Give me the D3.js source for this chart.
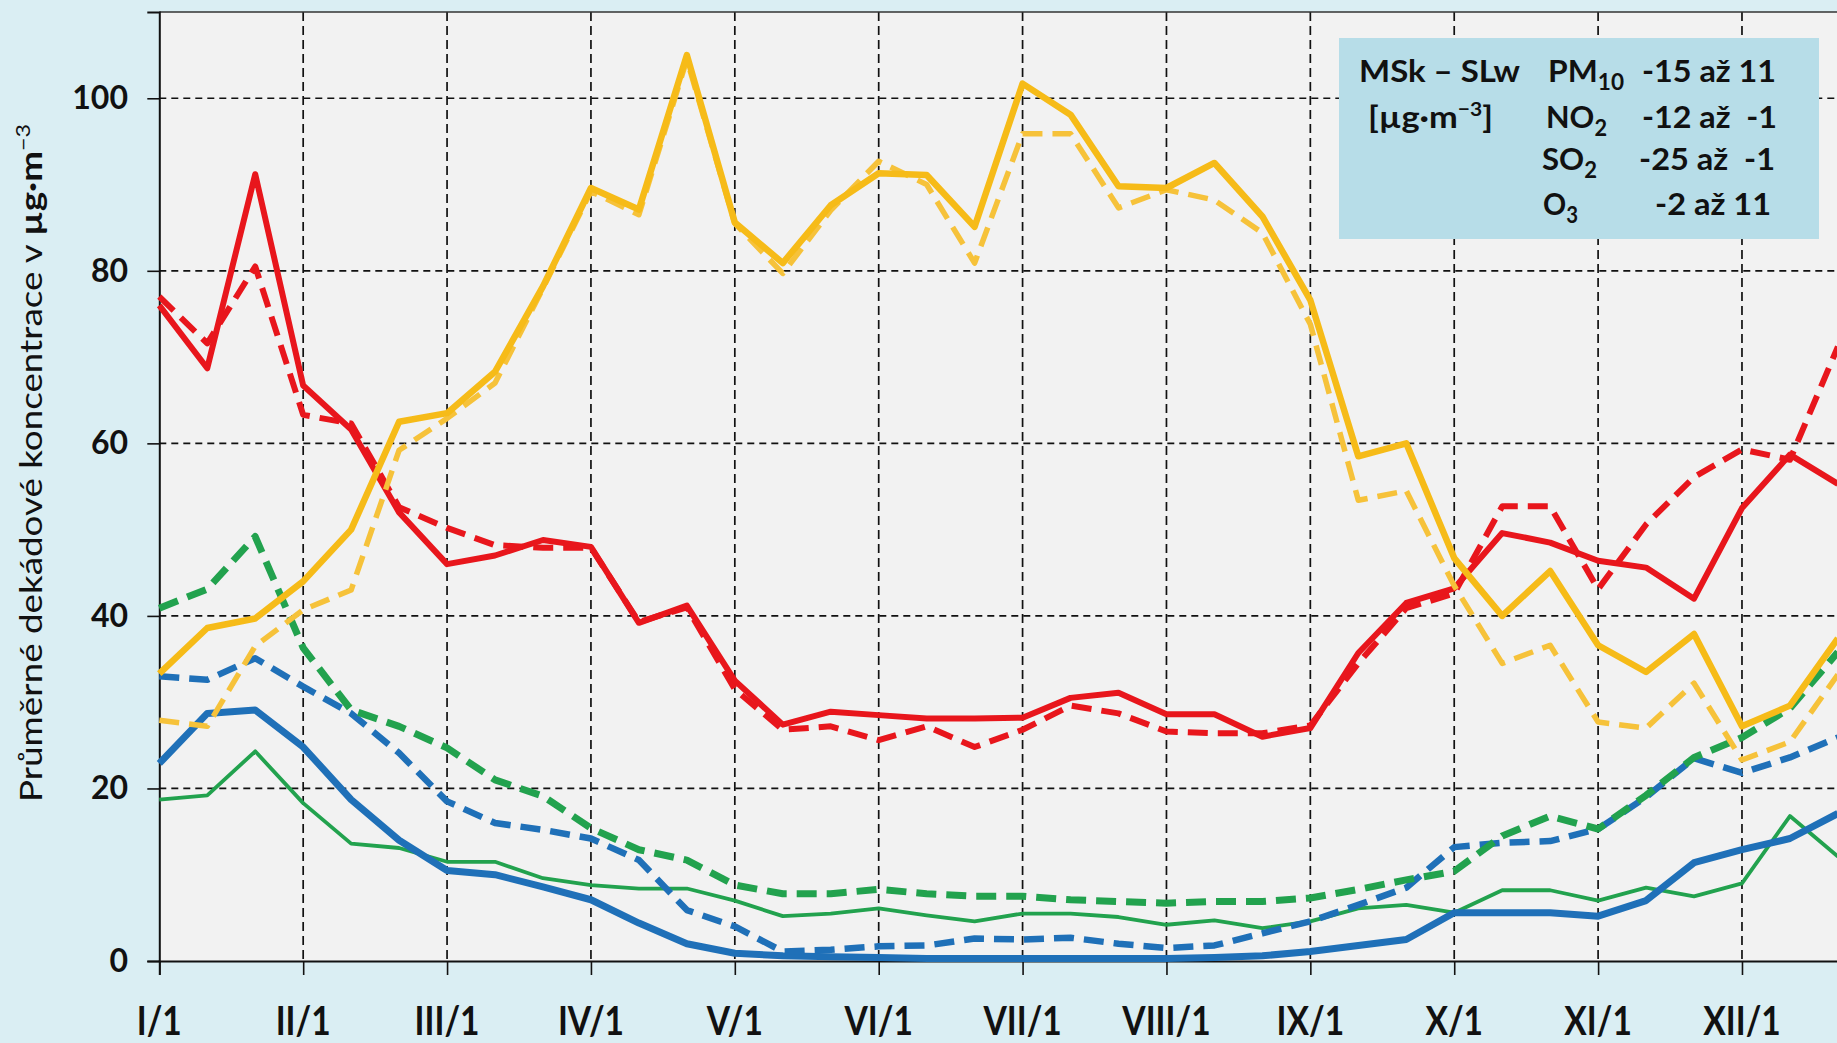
<!DOCTYPE html>
<html><head><meta charset="utf-8">
<script src="https://cdn.jsdelivr.net/npm/d3@7"></script>
<style>
body{margin:0;background:#daeef3;}
svg{display:block}
text{white-space:pre}
</style>
</head><body>
<svg id="c" width="1837" height="1043"></svg>
<script>
// ---- data ----
const decades = ["I/1","I/2","I/3","II/1","II/2","II/3","III/1","III/2","III/3","IV/1","IV/2","IV/3",
  "V/1","V/2","V/3","VI/1","VI/2","VI/3","VII/1","VII/2","VII/3","VIII/1","VIII/2","VIII/3",
  "IX/1","IX/2","IX/3","X/1","X/2","X/3","XI/1","XI/2","XI/3","XII/1","XII/2","XII/3"];
const monthTicks = ["I/1","II/1","III/1","IV/1","V/1","VI/1","VII/1","VIII/1","IX/1","X/1","XI/1","XII/1"];
const yTicks = [0,20,40,60,80,100];

const redSolid   = [76,68.7,91.2,66.7,61.6,52,46,47,48.8,48,39.2,41.2,32.5,27.4,28.9,28.5,28.1,28.1,28.2,30.5,31.1,28.6,28.6,26.0,27.0,35.7,41.5,43.2,49.6,48.5,46.4,45.6,42.0,52.5,58.7,55.3];
const redDashed  = [77,71.6,80.5,63.3,62.3,52.6,50.2,48.2,47.9,47.9,39.3,41.0,31.5,26.8,27.2,25.6,27.2,24.8,26.8,29.6,28.7,26.6,26.4,26.4,27.3,34.5,40.9,42.6,52.7,52.7,43.1,50.6,56.1,59.3,58.1,71.2];
const yelSolid   = [33.3,38.6,39.7,44.0,50.0,62.5,63.5,68.3,78.2,89.6,87.1,105.0,85.6,80.9,87.6,91.3,91.1,85.1,101.7,98.1,89.8,89.6,92.5,86.3,76.6,58.5,60.0,46.7,40.0,45.2,36.6,33.5,37.9,27.2,29.6,37.4];
const yelDashed  = [27.9,27.2,36.5,40.7,43.0,59.2,62.9,67.0,78.0,89.2,86.5,104.5,85.5,79.7,87.0,92.7,90.0,80.9,95.9,95.9,87.3,89.4,88.2,84.4,73.8,53.4,54.5,43.5,34.5,36.6,27.7,27.0,32.2,23.3,25.4,33.2];
const grnSolid   = [18.7,19.2,24.3,18.3,13.6,13.1,11.5,11.5,9.6,8.8,8.4,8.4,7.0,5.2,5.5,6.1,5.3,4.6,5.5,5.5,5.1,4.2,4.7,3.8,4.6,6.1,6.5,5.6,8.2,8.2,7.0,8.5,7.5,9.0,16.8,12.1];
const grnDashed  = [40.9,43.1,49.2,36.3,29.1,27.2,24.7,21.0,19.1,15.4,12.9,11.7,8.8,7.8,7.8,8.3,7.8,7.5,7.5,7.1,6.9,6.7,6.9,6.9,7.3,8.3,9.4,10.4,14.5,16.8,15.3,19.2,23.6,25.9,29.3,35.8];
const bluSolid   = [22.9,28.7,29.1,24.8,18.7,14.0,10.5,10.0,8.6,7.1,4.4,2.0,0.9,0.6,0.5,0.4,0.3,0.3,0.3,0.3,0.3,0.3,0.4,0.6,1.1,1.8,2.5,5.6,5.6,5.6,5.2,7.0,11.4,12.9,14.2,17.1];
const bluDashed  = [33.0,32.6,35.1,31.8,28.7,24.1,18.5,16.0,15.2,14.2,11.7,5.9,4.0,1.1,1.3,1.7,1.8,2.6,2.5,2.7,2.0,1.5,1.8,3.2,4.6,6.5,8.5,13.2,13.7,13.9,15.3,19.0,23.5,21.8,23.6,25.9];

const legendRows = [
  {left:"MSk – SLw", sp:"PM", sub:"10", range:"-15 až 11"},
  {left:"[µg·m", sup:"−3", leftEnd:"]", sp:"NO", sub:"2", range:"-12 až  -1"},
  {left:"", sp:"SO", sub:"2", range:"-25 až  -1"},
  {left:"", sp:"O", sub:"3", range:"-2 až 11"}
];

// ---- layout ----
const svg = d3.select("#c");
const W = 1837, H = 1043;
const x0 = 159.3, step = 47.96;
const x = d3.scalePoint().domain(decades).range([x0, x0 + step*35]);
const y = d3.scaleLinear().domain([0,110]).range([961, 12]);

svg.append("rect").attr("width",W).attr("height",H).attr("fill","#daeef3");
svg.append("rect").attr("x",x0).attr("y",y(110)).attr("width",W - x0 + 5).attr("height",y(0)-y(110)).attr("fill","#f2f2f2");

// grid
const grid = svg.append("g");
grid.selectAll(".hg").data(yTicks.filter(d=>d>0)).join("line")
  .attr("x1",x0).attr("x2",W).attr("y1",d=>y(d)).attr("y2",d=>y(d))
  .attr("stroke","#111").attr("stroke-width",1.7).attr("stroke-dasharray","7,5");
grid.selectAll(".vg").data(monthTicks.slice(1)).join("line")
  .attr("x1",d=>x(d)).attr("x2",d=>x(d)).attr("y1",y(110)).attr("y2",y(0))
  .attr("stroke","#111").attr("stroke-width",1.7).attr("stroke-dasharray","9,5");
// top border
svg.append("line").attr("x1",x0).attr("x2",W).attr("y1",y(110)).attr("y2",y(110)).attr("stroke","#333").attr("stroke-width",1.6);

// axes
const yAxis = d3.axisLeft(y).tickValues(yTicks).tickSize(12).tickFormat("");
const gy = svg.append("g").attr("transform",`translate(${x0},0)`).call(yAxis);
gy.select(".domain").attr("stroke","#111").attr("stroke-width",2);
gy.selectAll(".tick line").attr("stroke","#111").attr("stroke-width",1.6);

const xAxis = d3.axisBottom(x).tickValues(monthTicks).tickSize(14).tickFormat("");
const gx = svg.append("g").attr("transform",`translate(0,${y(0)})`).call(xAxis);
gx.select(".domain").attr("stroke","#111").attr("stroke-width",2);
gx.selectAll(".tick line").attr("stroke","#111").attr("stroke-width",1.6);

// y labels
svg.append("g").selectAll("text").data(yTicks).join("text")
  .attr("x",128).attr("y",d=>y(d)+11)
  .attr("text-anchor","end").attr("font-family","Lato").attr("font-weight","bold")
  .attr("font-size",32).attr("fill","#111").text(d=>d);

// x labels
svg.append("g").selectAll("text").data(monthTicks).join("text")
  .attr("transform",d=>`translate(${x(d)},1035) scale(0.84,1)`)
  .attr("text-anchor","middle").attr("font-family","Lato").attr("font-weight","bold")
  .attr("font-size",40).attr("fill","#111").text(d=>d);

// y title
const yt = svg.append("text")
  .attr("transform","translate(42,463) rotate(-90)")
  .attr("text-anchor","middle").attr("font-family","Lato").attr("font-size",30).attr("fill","#111")
  .attr("textLength",678).attr("lengthAdjust","spacingAndGlyphs");
yt.append("tspan").text("Průměrné dekádové koncentrace v ");
yt.append("tspan").attr("font-weight","bold").text("µg·m");
yt.append("tspan").attr("dy",-12).attr("font-size",19).text("−3");

// lines
const series = [
  {v:grnSolid,  c:"#22a24e", w:3.8, d:null},
  {v:bluSolid,  c:"#1f70b8", w:7,   d:null},
  {v:bluDashed, c:"#1f70b8", w:6.5, d:"20,10"},
  {v:grnDashed, c:"#22a24e", w:7,   d:"20,10"},
  {v:redDashed, c:"#e8161c", w:6,   d:"20,10"},
  {v:redSolid,  c:"#e8161c", w:6,   d:null},
  {v:yelDashed, c:"#f6c23a", w:5.5, d:"20,10"},
  {v:yelSolid,  c:"#f6bb18", w:6.5, d:null}
];
const line = d3.line().x((d,i)=>x(decades[i])).y(d=>y(d));
svg.append("defs").append("clipPath").attr("id","pc").append("rect")
  .attr("x",0).attr("y",0).attr("width",W).attr("height",H);
const lg = svg.append("g").attr("clip-path","url(#pc)");
lg.selectAll("path").data(series).join("path")
  .attr("d",s=>line(s.v)).attr("fill","none")
  .attr("stroke",s=>s.c).attr("stroke-width",s=>s.w)
  .attr("stroke-dasharray",s=>s.d).attr("stroke-linejoin","round");

// legend box
svg.append("rect").attr("x",1339).attr("y",38).attr("width",480).attr("height",201).attr("fill","#b7dde8");
const baselines = [82,128,170,215];
const leftX = [1359,1368], leftW=[161,125];
const spX = [1548,1546,1542,1543], spW=[76,61,55,35];
const rX = [1642,1642,1639,1655], rW=[134,135,136,116];
function tx(xp,yp,w){
  return svg.append("text").attr("x",xp).attr("y",yp).attr("font-family","Lato").attr("font-weight","bold")
    .attr("font-size",31).attr("fill","#111").attr("textLength",w).attr("lengthAdjust","spacingAndGlyphs");
}
legendRows.forEach((r,i)=>{
  if(r.left){
    const t = tx(leftX[i],baselines[i],leftW[i]);
    t.append("tspan").text(r.left);
    if(r.sup){ t.append("tspan").attr("dy",-12).attr("font-size",19).text(r.sup);
               t.append("tspan").attr("dy",12).text(r.leftEnd); }
  }
  const s = tx(spX[i],baselines[i],spW[i]);
  s.append("tspan").text(r.sp);
  s.append("tspan").attr("dy",8).attr("font-size",22).text(r.sub);
  tx(rX[i],baselines[i],rW[i]).text(r.range);
});
</script>
</body></html>
